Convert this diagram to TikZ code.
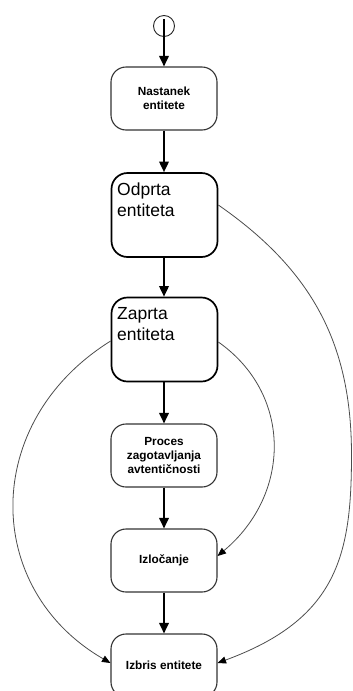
\documentclass[tikz,border=0pt]{standalone}
\usepackage{fontspec}
\setmainfont{Liberation Sans}
\usetikzlibrary{arrows.meta}

\begin{document}
\begin{tikzpicture}[x=1pt,y=-1pt,
  % small activity boxes
  state/.style={draw=black!80, line width=1.1pt, rounded corners=15pt,
    minimum width=106pt, minimum height=63pt, inner sep=0pt,
    align=center, font=\bfseries\fontsize{11.8}{13.8}\selectfont},
  % entity state boxes with top-left text
  bigstate/.style={draw=black, line width=1.7pt, rounded corners=16pt,
    minimum width=106pt, minimum height=84pt, inner sep=0pt,
    font=\fontsize{17.5}{21}\selectfont},
  initial/.style={draw=black!85, line width=0.9pt, circle,
    minimum size=21pt, inner sep=0pt},
  flow/.style={line width=1.8pt, -{Triangle[length=10.5pt,width=9.5pt]}},
  jump/.style={line width=0.8pt, draw=black!70,
    -{Triangle[length=8.5pt,width=7pt,color=black]}}]

\useasboundingbox (0,0) rectangle (353,691);

\newcommand{\toptext}[1]{\parbox[c][84pt][t]{94.6pt}{\raggedright\vspace*{10pt}#1}}

% start point
\node[initial] (start) at (164,26) {};

% main sequence
\node[state] (nastanek) at (164,98.5) {Nastanek\\entitete};
\node[bigstate] (odprta) at (164.5,215) {\toptext{Odprta\\entiteta}};
\node[bigstate] (zaprta) at (164.5,339.5) {\toptext{Zaprta\\entiteta}};
\node[state] (proces) at (164,455.5) {Proces\\zagotavljanja\\avtentičnosti};
\node[state] (izlocanje) at (164,560.5) {Izločanje};
\node[state] (izbris) at (164,665.5) {Izbris entitete};

% turning point of the long bypass
\coordinate (bendR) at (351.5,455);

% straight flow
\draw[flow] ([yshift=-4pt]start.north) -- (nastanek.north);
\draw[flow] (nastanek.south) -- (nastanek.south |- odprta.north);
\draw[flow] (nastanek.south |- odprta.south) -- (nastanek.south |- zaprta.north);
\draw[flow] (nastanek.south |- zaprta.south) -- (proces.north);
\draw[flow] (proces.south) -- (izlocanje.north);
\draw[flow] (izlocanje.south) -- (izbris.north);

% bypass transitions
\draw[jump] ([yshift=10pt]odprta.east)
  .. controls +(95,66) and +(0,-110) .. (bendR)
  .. controls +(0,100) and +(120,-44) .. ([yshift=2.5pt]izbris.east);
\draw[jump] ([yshift=-2.5pt]zaprta.east)
  .. controls +(74,52) and +(74,-62) .. ([yshift=4.5pt]izlocanje.east);
\draw[jump] ([yshift=-1.5pt]zaprta.west)
  .. controls +(-130,81) and +(-128,-74) .. ([yshift=2.5pt]izbris.west);

\end{tikzpicture}
\end{document}
